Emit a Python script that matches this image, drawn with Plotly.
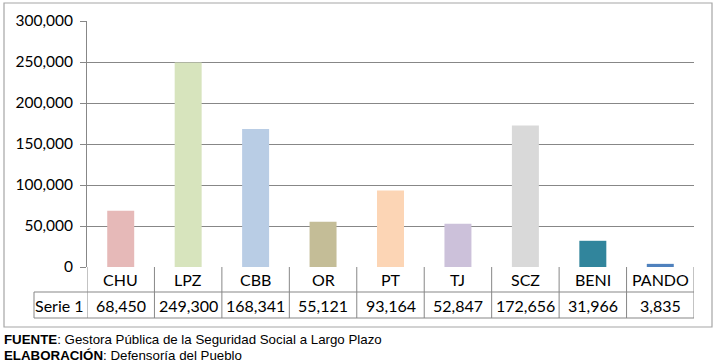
import plotly.graph_objects as go

categories = ["CHU", "LPZ", "CBB", "OR", "PT", "TJ", "SCZ", "BENI", "PANDO"]
values = [68450, 249300, 168341, 55121, 93164, 52847, 172656, 31966, 3835]
series_name = "Serie 1"
bar_colors = ["#E6B9B8", "#D7E4BD", "#B9CDE5", "#C4BD97", "#FCD5B5",
              "#CCC1DA", "#D9D9D9", "#31859C", "#4F81BD"]
y_ticks = [0, 50000, 100000, 150000, 200000, 250000, 300000]
footer_source = "<b>FUENTE</b>: Gestora Pública de la Seguridad Social a Largo Plazo"
footer_author = "<b>ELABORACIÓN</b>: Defensoría del Pueblo"

W, H = 716, 364
L, R, T, B = 87, 22, 21, 97
PH = H - T - B  # plot height in px
PW = W - L - R


def py(p):  # pixel y -> paper y
    return (H - B - p) / PH


def px(p):  # pixel x -> paper x
    return (p - L) / PW


FONT = "Lato"
GRID = "#878787"

fig = go.Figure()
fig.add_trace(go.Bar(
    x=list(range(len(categories))), y=values, marker_color=bar_colors,
    marker_line_width=0, name=series_name, hoverinfo="x+y",
))

shapes = []
annotations = []
n = len(categories)
y_row1 = py(292)
y_row2 = py(318)
# table vertical lines
for k in range(n + 1):
    shapes.append(dict(type="line", xref="x", yref="paper", x0=k - 0.5, x1=k - 0.5,
                       y0=0, y1=y_row2, line=dict(color=GRID, width=1)))
# table horizontal lines
for yy in (y_row1, y_row2):
    shapes.append(dict(type="line", xref="paper", yref="paper", x0=px(34), x1=1,
                       y0=yy, y1=yy, line=dict(color=GRID, width=1)))
shapes.append(dict(type="line", xref="paper", yref="paper", x0=px(34), x1=px(34),
                   y0=y_row1, y1=y_row2, line=dict(color=GRID, width=1)))
# outer border
shapes.append(dict(type="rect", xref="paper", yref="paper", x0=px(4), x1=px(712),
                   y0=py(327), y1=py(3), line=dict(color="#A6A6A6", width=1.2),
                   layer="below"))

cell_font = dict(family=FONT, size=16, color="#000")
for i, (c, v) in enumerate(zip(categories, values)):
    annotations.append(dict(x=i, y=(0 + y_row1) / 2, xref="x", yref="paper", text=c,
                            xanchor="center", yanchor="middle",
                            showarrow=False, font=cell_font))
    annotations.append(dict(x=i, y=(y_row1 + y_row2) / 2, xref="x", yref="paper",
                            text=f"{v:,}", xanchor="center", yanchor="middle",
                            showarrow=False, font=cell_font))
annotations.append(dict(x=px(59), y=(y_row1 + y_row2) / 2, xref="paper", yref="paper",
                        text=series_name, xanchor="center", yanchor="middle",
                        showarrow=False, font=cell_font))
annotations.append(dict(x=px(2), y=py(339), xref="paper", yref="paper", xanchor="left",
                        yanchor="middle", text=footer_source, showarrow=False,
                        font=dict(family="Liberation Sans", size=13.3, color="#000")))
annotations.append(dict(x=px(2), y=py(355), xref="paper", yref="paper", xanchor="left",
                        yanchor="middle", text=footer_author, showarrow=False,
                        font=dict(family="Liberation Sans", size=13.3, color="#000")))

fig.update_layout(
    width=W, height=H, margin=dict(l=L, r=R, t=T, b=B),
    paper_bgcolor="white", plot_bgcolor="white", showlegend=False,
    bargap=0.6,
    xaxis=dict(range=[-0.5, n - 0.5], showticklabels=False, showgrid=False,
               zeroline=False, showline=False, ticks="", fixedrange=True),
    yaxis=dict(range=[0, 300000], tickvals=y_ticks, tickformat=",", showgrid=True,
               gridcolor=GRID, gridwidth=1, zeroline=False, showline=True,
               linecolor=GRID, linewidth=1, ticks="outside", ticklen=6,
               tickcolor=GRID, ticklabelstandoff=4,
               tickfont=dict(family=FONT, size=15.5, color="#000"),
               fixedrange=True),
    shapes=shapes, annotations=annotations,
)

fig.write_html("out.html", config={"displayModeBar": False},
               post_script="document.body.style.margin='0';")
